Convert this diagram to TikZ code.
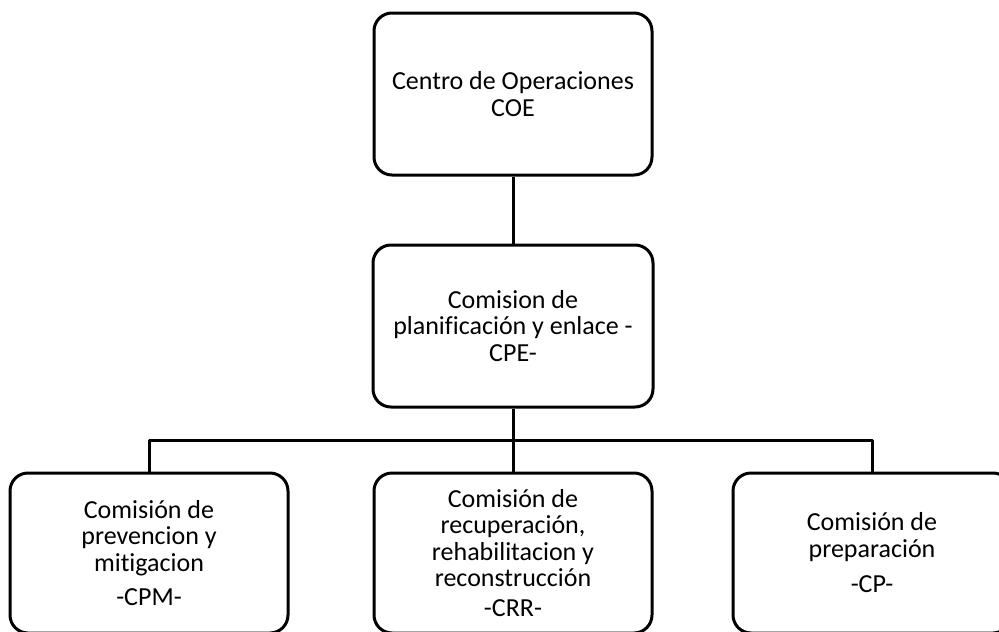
\documentclass[tikz,border=0pt]{standalone}
\usepackage{fontspec}
\setmainfont[Ligatures=NoCommon]{Carlito}
\usetikzlibrary{positioning}

\begin{document}
\begin{tikzpicture}[line join=bevel,x=1pt,y=1pt,
    caja/.style={draw,line width=3pt,rounded corners=18pt,align=center,
        inner sep=0pt,minimum width=278pt,minimum height=162pt,
        font=\fontsize{26}{26.5}\selectfont},
    linea/.style={line width=3pt}]
            \useasboundingbox (0,0) rectangle (999,-632);

            \node[caja] (coe) at (513,-94) {Centro de Operaciones\\COE};
            \node[caja,minimum width=280pt] (cpe) at (513,-326)
                {Comision de\\planificación y enlace -\\CPE-};

            \node[caja,minimum height=160pt] (cpm) at (149,-553)
                {Comisión de\\prevencion y\\mitigacion\\[8pt]-CPM-};
            \node[caja,minimum height=160pt] (crr) at (513,-553)
                {Comisión de\\recuperación,\\rehabilitacion y\\reconstrucción\\[3pt]-CRR-};
            \node[caja,minimum height=160pt] (cp) at (872,-553)
                {Comisión de\\preparación\\[9pt]-CP-};

            \coordinate (enlace) at (513,-440);

            \draw [linea] (coe) -- (cpe);
            \draw [linea] (cpe) -- (crr);
            \draw [linea] (cpm.north) |- (enlace) -| (cp.north);
        \end{tikzpicture}
\end{document}
